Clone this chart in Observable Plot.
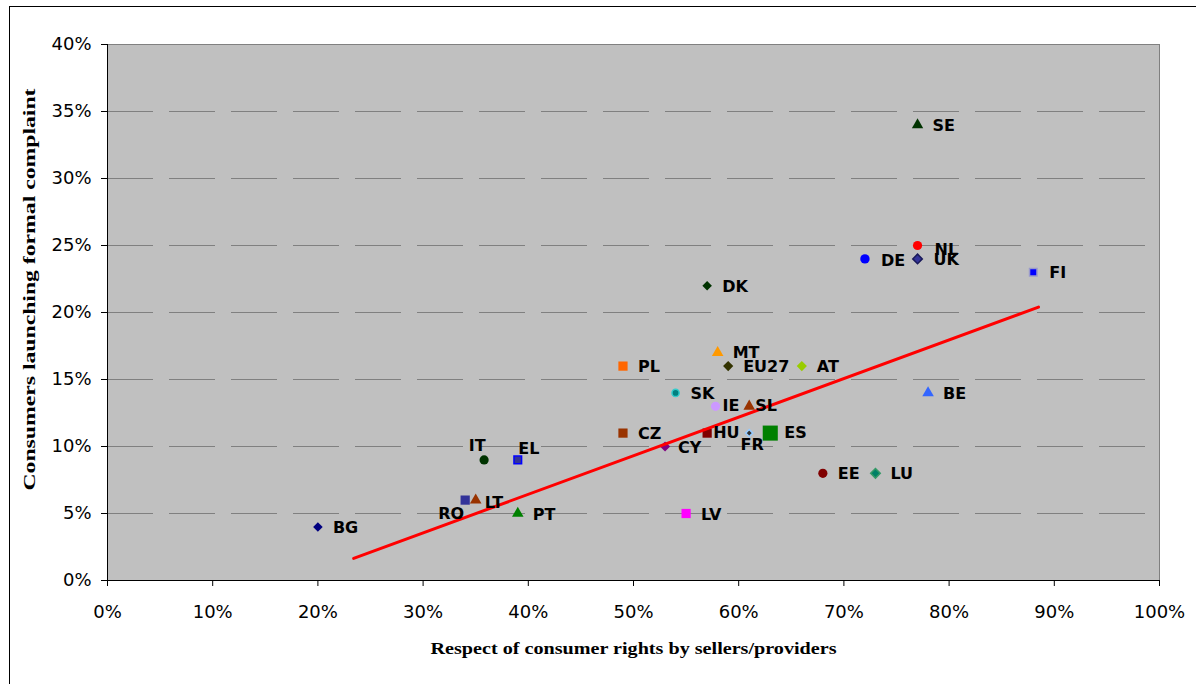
<!DOCTYPE html>
<html>
<head>
<meta charset="utf-8">
<script src="https://cdn.jsdelivr.net/npm/d3@7"></script>
<script src="https://cdn.jsdelivr.net/npm/@observablehq/plot@0.6"></script>
<style>
  html, body { margin: 0; padding: 0; background: #fff; }
  #wrap { position: relative; width: 1196px; height: 684px; overflow: hidden; }
  #border { position: absolute; left: 9px; top: 6px; width: 1300px; height: 800px;
            border-left: 1.5px solid #000; border-top: 1.5px solid #000; pointer-events: none; }
  #chart { position: absolute; left: 0; top: 0; }
</style>
</head>
<body>
<div id="wrap"><div id="chart"></div><div id="border"></div></div>
<script>
// ---- data ----
const countries = ["SE","NL","UK","DE","FI","DK","PL","MT","EU27","AT","BE","SK","IE","SL","CZ","HU","FR","ES","CY","IT","EL","EE","LU","RO","LT","PT","LV","BG"];
const respect   = [0.77,0.77,0.77,0.72,0.88,0.57,0.49,0.58,0.59,0.66,0.78,0.54,0.578,0.61,0.49,0.57,0.61,0.63,0.53,0.358,0.39,0.68,0.73,0.34,0.35,0.39,0.55,0.20];
const complaint = [0.34,0.25,0.24,0.24,0.23,0.22,0.16,0.17,0.16,0.16,0.14,0.14,0.13,0.13,0.11,0.11,0.11,0.11,0.10,0.09,0.09,0.08,0.08,0.06,0.06,0.05,0.05,0.04];
const trendX = [0.234, 0.885];
const trendY = [0.0165, 0.204];
const xTicks = [0,0.1,0.2,0.3,0.4,0.5,0.6,0.7,0.8,0.9,1.0];
const yTicks = [0,0.05,0.10,0.15,0.20,0.25,0.30,0.35,0.40];
const xTitle = "Respect of consumer rights by sellers/providers";
const yTitle = "Consumers launching formal complaint";

// ---- styles ----
const markerStyle = {
  SE:   {symbol:"triangle", fill:"#003300", r:4.2},
  NL:   {symbol:"circle",   fill:"#FF0000", r:4.6},
  UK:   {symbol:"diamond2", fill:"#333399", stroke:"#1a1a5a", r:4.3},
  DE:   {symbol:"circle",   fill:"#0000FF", r:4.7},
  FI:   {symbol:"square",   fill:"#0000FF", stroke:"#9999CC", r:4.2},
  DK:   {symbol:"diamond2", fill:"#003300", r:4.3},
  PL:   {symbol:"square",   fill:"#FF6600", r:5.2},
  MT:   {symbol:"triangle", fill:"#FF9900", r:4.3},
  EU27: {symbol:"diamond2", fill:"#333300", r:4.6},
  AT:   {symbol:"diamond2", fill:"#99CC00", r:4.6},
  BE:   {symbol:"triangle", fill:"#3366FF", r:4.3},
  SK:   {symbol:"circle",   fill:"#008080", stroke:"#33CCCC", r:3.6},
  IE:   {symbol:"circle",   fill:"#CC99FF", r:4.6},
  SL:   {symbol:"triangle", fill:"#993300", r:4.3},
  CZ:   {symbol:"square",   fill:"#993300", r:5.2},
  HU:   {symbol:"square",   fill:"#800000", r:5.2},
  FR:   {symbol:"diamond2", fill:"#333333", stroke:"#99CCFF", r:3.2},
  ES:   {symbol:"square",   fill:"#008000", r:8.5},
  CY:   {symbol:"diamond2", fill:"#800080", r:4.6},
  IT:   {symbol:"circle",   fill:"#003300", r:4.6},
  EL:   {symbol:"square",   fill:"#333399", stroke:"#0000FF", r:4.3},
  EE:   {symbol:"circle",   fill:"#800000", r:4.6},
  LU:   {symbol:"diamond2", fill:"#008066", stroke:"#339966", r:4.3},
  RO:   {symbol:"square",   fill:"#333399", r:5.2},
  LT:   {symbol:"triangle", fill:"#993300", r:4.3},
  PT:   {symbol:"triangle", fill:"#008000", r:4.3},
  LV:   {symbol:"square",   fill:"#FF00FF", r:5.2},
  BG:   {symbol:"diamond2", fill:"#000080", r:4.3}
};
const labelStyle = {
  NL: {dx:17, dy:4}, UK: {dx:16, dy:1}, DE: {dx:16, dy:2}, FI: {dx:16, dy:1},
  IE: {dx:7, dy:0}, SL: {dx:6, dy:0}, HU: {dx:6, dy:0}, LT: {dx:9, dy:3},
  FR: {dx:3, dy:12, anchor:"middle"}, ES: {dx:14, dy:0}, CY: {dx:13, dy:1},
  IT: {dx:-7, dy:-14, anchor:"middle"}, EL: {dx:11, dy:-11, anchor:"middle"},
  RO: {dx:-14, dy:14, anchor:"middle"}, MT: {dx:15, dy:0}
};

const points = countries.map((c, i) => ({c, x: respect[i], y: complaint[i]}));
const trend = trendX.map((x, i) => ({x, y: trendY[i]}));
const pct = d3.format(".0%");

const dotMarks = points.map(p => {
  const s = markerStyle[p.c];
  return Plot.dot([p], {x:"x", y:"y", symbol: () => s.symbol, fill: s.fill,
    stroke: s.stroke || "none", strokeWidth: s.stroke ? 1.5 : 0, r: s.r});
});
const labelMarks = points.map(p => {
  const l = labelStyle[p.c] || {dx:15, dy:1};
  return Plot.text([p], {x:"x", y:"y", text:"c", dx:l.dx, dy:l.dy,
    textAnchor: l.anchor || "start", fontFamily:"DejaVu Sans", fontWeight:"bold",
    fontSize:16, fill:"#000"});
});

const chart = Plot.plot({
  width: 1196, height: 684,
  marginLeft: 107, marginRight: 37, marginTop: 44, marginBottom: 104,
  style: {fontFamily: "DejaVu Sans", fontSize: "18px", color: "#000", background: "transparent"},
  x: {domain: [0, 1]},
  y: {domain: [0, 0.4]},
  symbol: {type: "identity"},
  marks: [
    Plot.frame({fill: "#C0C0C0", stroke: "#808080"}),
    Plot.ruleY(yTicks.filter(t => t > 0 && t < 0.4), {y: d => d, stroke: "#808080", strokeWidth: 1, strokeDasharray: "46 16"}),
    Plot.ruleX([0], {stroke: "#000"}),
    Plot.ruleY([0], {stroke: "#000"}),
    Plot.axisX({ticks: xTicks, tickFormat: pct, tickSize: 6, tickPadding: 19, label: null}),
    Plot.axisY({ticks: yTicks, tickFormat: pct, tickSize: 6, tickPadding: 10, label: null}),
    ...dotMarks,
    Plot.line(trend, {x: "x", y: "y", stroke: "#FF0000", strokeWidth: 3}),
    ...labelMarks,
    Plot.text([xTitle], {frameAnchor: "bottom", dy: 68, text: d => d, lineAnchor: "middle", textAnchor: "middle",
      fontFamily: "Liberation Serif", fontWeight: "bold", fontSize: 17, className: "xtitle"}),
    Plot.text([yTitle], {frameAnchor: "left", dx: -78, dy: -23, rotate: -90, text: d => d, lineAnchor: "middle", textAnchor: "middle",
      fontFamily: "Liberation Serif", fontWeight: "bold", fontSize: 17, className: "ytitle"})
  ]
});
document.getElementById("chart").appendChild(chart);
d3.select(chart).selectAll(".xtitle text").attr("textLength", 406).attr("lengthAdjust", "spacingAndGlyphs");
d3.select(chart).selectAll(".ytitle text").attr("textLength", 402).attr("lengthAdjust", "spacingAndGlyphs");
</script>
</body>
</html>
